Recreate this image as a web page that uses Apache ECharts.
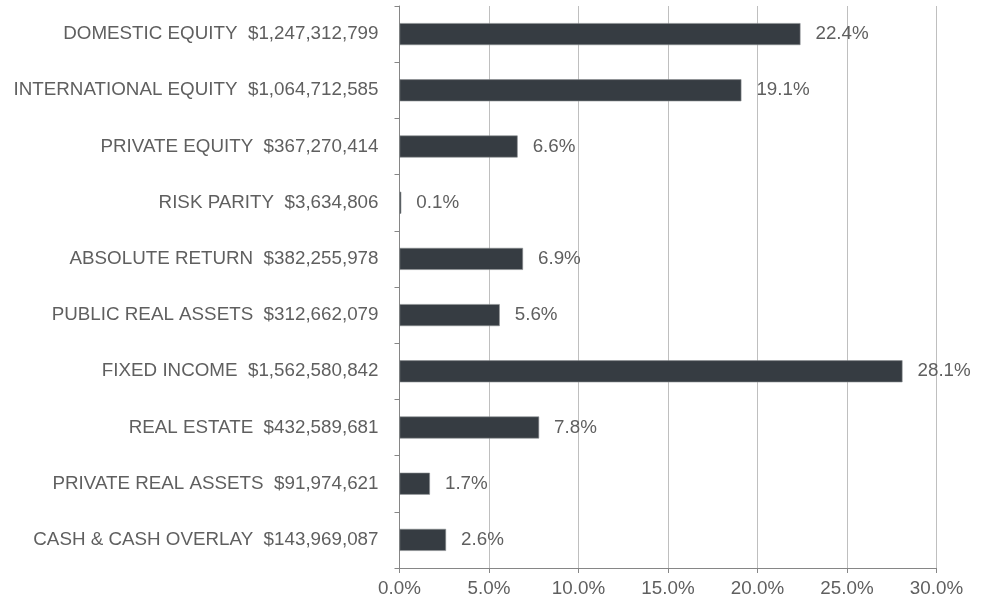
<!DOCTYPE html>
<html>
<head>
<meta charset="utf-8">
<script src="https://cdn.jsdelivr.net/npm/echarts@6/dist/echarts.min.js"></script>
<style>
	html, body { margin: 0; padding: 0; background: #fff; }
	#chart { width: 989px; height: 601px; }
</style>
</head>
<body>
<div id="chart"></div>
<script>
// asset classes, top to bottom
var assetNames = [
	'DOMESTIC EQUITY', 'INTERNATIONAL EQUITY', 'PRIVATE EQUITY', 'RISK PARITY',
	'ABSOLUTE RETURN', 'PUBLIC REAL ASSETS', 'FIXED INCOME', 'REAL ESTATE',
	'PRIVATE REAL ASSETS', 'CASH & CASH OVERLAY'
];
// market values
var assetAmounts = [
	'$1,247,312,799', '$1,064,712,585', '$367,270,414', '$3,634,806',
	'$382,255,978', '$312,662,079', '$1,562,580,842', '$432,589,681',
	'$91,974,621', '$143,969,087'
];
// share of total, %
var assetPercents = [22.4, 19.1, 6.6, 0.1, 6.9, 5.6, 28.1, 7.8, 1.7, 2.6];
// x axis ticks
var xTicks = [0, 5, 10, 15, 20, 25, 30];

var categories = assetNames.map(function(n, i) {
	return n + '  ' + assetAmounts[i];
});

var textColor = '#5f5f5f';
var fontFamily = '"Liberation Sans", Arial, sans-serif';
var fontSize = 18.8;

var myChart = echarts.init(document.getElementById('chart'));
var option = {
	animation: false,
	grid: { left: 399.5, top: 6, width: 537, height: 562, containLabel: false },
	xAxis: {
		type: 'value',
		min: xTicks[0],
		max: xTicks[xTicks.length - 1],
		interval: 5,
		axisLine: { show: true, lineStyle: { color: '#868686', width: 1 } },
		axisTick: { show: true, length: 5, lineStyle: { color: '#868686' } },
		axisLabel: {
			color: textColor, fontSize: fontSize, fontFamily: fontFamily, margin: 11,
			formatter: function(v) { return v.toFixed(1) + '%'; }
		},
		splitLine: { show: true, lineStyle: { color: '#bfbfbf', width: 1 } }
	},
	yAxis: {
		type: 'category',
		inverse: true,
		data: categories,
		axisLine: { show: true, lineStyle: { color: '#868686', width: 1 } },
		axisTick: { show: true, length: 5, lineStyle: { color: '#868686' } },
		axisLabel: { color: textColor, fontSize: fontSize, fontFamily: fontFamily, margin: 21 }
	},
	series: [
		{
			type: 'bar',
			data: assetPercents,
			barWidth: 22,
			itemStyle: { color: '#363c42', borderColor: '#8a8d90', borderWidth: 0.6 },
			label: {
				show: true,
				position: 'right',
				distance: 15,
				color: textColor,
				fontSize: fontSize,
				fontFamily: fontFamily,
				formatter: function(p) { return p.value.toFixed(1) + '%'; }
			}
		}
	]
};
option && myChart.setOption(option);
</script>
</body>
</html>
